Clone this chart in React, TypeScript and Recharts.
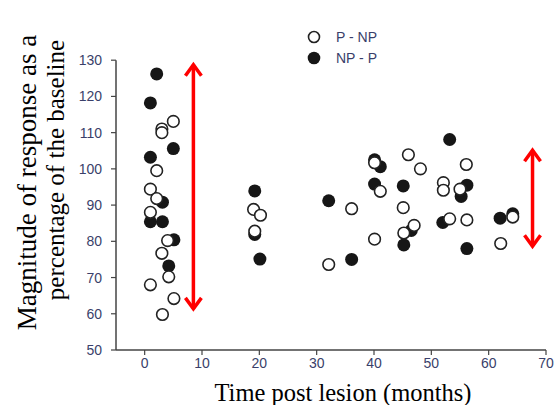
import { ScatterChart, Scatter, XAxis, YAxis, ReferenceLine, Legend } from 'recharts'

// P - NP (open circles)
const pToNp = [
  { x: 1, y: 88 }, { x: 1, y: 94.4 }, { x: 1, y: 68 }, { x: 2.1, y: 99.5 }, { x: 2.1, y: 91.8 },
  { x: 3, y: 111 }, { x: 3, y: 110 }, { x: 5, y: 113.1 }, { x: 4, y: 80.2 }, { x: 3, y: 76.7 },
  { x: 4.2, y: 70.2 }, { x: 5.1, y: 64.2 }, { x: 3.1, y: 59.8 },
  { x: 19, y: 88.8 }, { x: 20.2, y: 87.2 }, { x: 19.2, y: 82.8 },
  { x: 32.1, y: 73.6 }, { x: 36.1, y: 89 }, { x: 40.1, y: 101.7 }, { x: 40.1, y: 80.6 },
  { x: 41.1, y: 93.8 }, { x: 45.1, y: 89.3 }, { x: 45.2, y: 82.3 }, { x: 46, y: 103.9 },
  { x: 47, y: 84.4 }, { x: 48.1, y: 100 }, { x: 52.1, y: 96.2 }, { x: 52.1, y: 94.1 },
  { x: 53.2, y: 86.2 }, { x: 55, y: 94.4 }, { x: 56.1, y: 101.2 }, { x: 56.2, y: 85.9 },
  { x: 62.1, y: 79.4 }, { x: 64.2, y: 86.7 },
]

// NP - P (filled circles)
const npToP = [
  { x: 2.1, y: 126.2 }, { x: 1, y: 118.2 }, { x: 5, y: 105.6 }, { x: 1, y: 103.2 },
  { x: 3.1, y: 90.8 }, { x: 1, y: 85.4 }, { x: 3.1, y: 85.4 }, { x: 5.1, y: 80.4 }, { x: 4.2, y: 73.2 },
  { x: 19.2, y: 93.9 }, { x: 19.2, y: 81.9 }, { x: 20.1, y: 75.1 },
  { x: 32.1, y: 91.2 }, { x: 36.1, y: 75 }, { x: 40.1, y: 102.5 }, { x: 41.1, y: 100.6 },
  { x: 40.1, y: 95.8 }, { x: 45.1, y: 95.3 }, { x: 45.2, y: 79 }, { x: 46.5, y: 83 },
  { x: 52, y: 85.2 }, { x: 53.2, y: 108.1 }, { x: 55.2, y: 92.4 }, { x: 56.2, y: 95.5 },
  { x: 56.2, y: 78 }, { x: 62, y: 86.4 }, { x: 64.2, y: 87.6 },
]

// red range arrows: x, low, high
const arrows = [
  { x: 8.5, low: 60.8, high: 129.3 },
  { x: 67.65, low: 78.1, high: 105.7 },
]

const xTicks = [0, 10, 20, 30, 40, 50, 60, 70]
const yTicks = [50, 60, 70, 80, 90, 100, 110, 120, 130]
const legendOrder = ['P - NP', 'NP - P']

const SERIF = "'Times New Roman', 'Liberation Serif', serif"
const SANS = "Arial, 'Liberation Sans', sans-serif"
const TICK_COLOR = '#3a3f6a'

const openDot = (p: any) => (
  <circle cx={p.cx} cy={p.cy} r={5.8} fill="#fff" stroke="#222" strokeWidth={1.6} />
)
const filledDot = (p: any) => <circle cx={p.cx} cy={p.cy} r={6.5} fill="#161616" />

const arrowShape = (p: any) => {
  const x = p.x1
  const top = Math.min(p.y1, p.y2)
  const bottom = Math.max(p.y1, p.y2)
  return (
    <g stroke="#ff0000" strokeWidth={3.5} fill="none">
      <line x1={x} y1={top + 2} x2={x} y2={bottom - 2} />
      <polyline points={`${x - 8},${top + 13} ${x},${top + 2} ${x + 8},${top + 13}`} />
      <polyline points={`${x - 8},${bottom - 13} ${x},${bottom - 2} ${x + 8},${bottom - 13}`} />
    </g>
  )
}

const YLabel = () => {
  const y1 = 182.5
  const y2 = 170
  return (
    <g fill="#000" fontFamily={SERIF}>
      <text x={36} y={y1} fontSize={27} textAnchor="middle" transform={`rotate(-90, 36, ${y1})`}>
        Magnitude of response as a
      </text>
      <text x={64} y={y2} fontSize={25} textAnchor="middle" transform={`rotate(-90, 64, ${y2})`}>
        percentage of the baseline
      </text>
    </g>
  )
}

const XLabel = (props: any) => {
  const vb = props.viewBox
  return (
    <text x={vb.x + vb.width / 2 + 12} y={vb.y + 51} fontSize={24.5} fontFamily={SERIF} textAnchor="middle" fill="#000">
      Time post lesion (months)
    </text>
  )
}

const LegendBox = (props: any) => {
  const items = [...(props.payload || [])].sort(
    (a: any, b: any) => legendOrder.indexOf(a.value) - legendOrder.indexOf(b.value)
  )
  return (
    <div style={{ fontFamily: SANS, fontSize: 14, color: TICK_COLOR }}>
      {items.map((e: any) => (
        <div key={e.value} style={{ display: 'flex', alignItems: 'center', height: 21.6 }}>
          <svg width={16} height={16} style={{ marginRight: 14 }}>
            {e.value === 'P - NP' ? (
              <circle cx={8} cy={8} r={5.5} fill="#fff" stroke="#222" strokeWidth={1.6} />
            ) : (
              <circle cx={8} cy={8} r={6.3} fill="#161616" />
            )}
          </svg>
          <span>{e.value}</span>
        </div>
      ))}
    </div>
  )
}

export default function App() {
  return (
    <div style={{ position: 'absolute', left: 0, top: 0, width: 557, height: 405, background: '#fff' }}>
      <ScatterChart width={557} height={405} margin={{ top: 17, right: 11, bottom: 0, left: 0 }}>
        <XAxis
          type="number"
          dataKey="x"
          domain={[-5, 70]}
          ticks={xTicks}
          allowDataOverflow
          height={55}
          tickSize={5}
          tickMargin={3}
          axisLine={{ stroke: '#444', strokeWidth: 1.5 }}
          tickLine={{ stroke: '#444', strokeWidth: 1.2 }}
          tick={{ fill: TICK_COLOR, fontSize: 14, fontFamily: SANS }}
          label={<XLabel />}
        />
        <YAxis
          type="number"
          dataKey="y"
          domain={[50, 130]}
          ticks={yTicks}
          allowDataOverflow
          width={116}
          tickSize={5}
          tickMargin={9}
          axisLine={{ stroke: '#444', strokeWidth: 1.5 }}
          tickLine={{ stroke: '#444', strokeWidth: 1.2 }}
          tick={{ fill: TICK_COLOR, fontSize: 14, fontFamily: SANS }}
          label={<YLabel />}
        />
        <Legend
          verticalAlign="top"
          align="left"
          content={<LegendBox />}
          wrapperStyle={{ top: 26, left: 306, width: 120 }}
        />
        {arrows.map((a, i) => (
          <ReferenceLine
            key={i}
            segment={[{ x: a.x, y: a.low }, { x: a.x, y: a.high }]}
            shape={arrowShape}
          />
        ))}
        <Scatter name="NP - P" data={npToP} shape={filledDot} isAnimationActive={false} />
        <Scatter name="P - NP" data={pToNp} shape={openDot} isAnimationActive={false} />
      </ScatterChart>
    </div>
  )
}
